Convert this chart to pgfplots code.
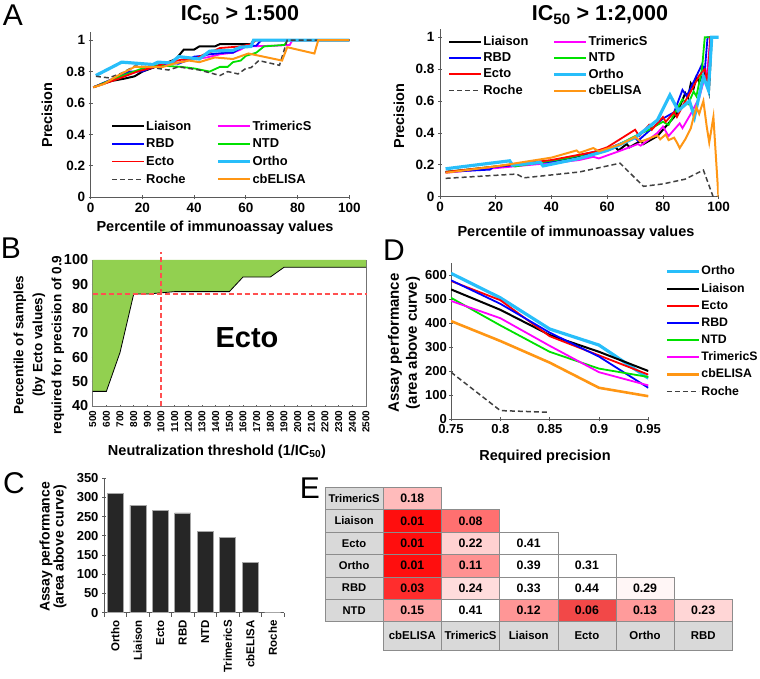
\documentclass[border=0pt]{standalone}
\usepackage{fontspec}
\setmainfont{Liberation Sans}
\usepackage{pgfplots}
\pgfplotsset{compat=1.18}

\definecolor{cLia}{RGB}{0,0,0}
\definecolor{cRBD}{RGB}{0,0,255}
\definecolor{cEcto}{RGB}{255,0,0}
\definecolor{cRoche}{RGB}{64,64,64}
\definecolor{cTri}{RGB}{255,0,255}
\definecolor{cNTD}{RGB}{0,225,0}
\definecolor{cOrtho}{RGB}{40,190,250}
\definecolor{cELISA}{RGB}{255,150,20}
\definecolor{bgreen}{RGB}{146,208,80}
\definecolor{dred}{RGB}{255,80,80}
\definecolor{lblgray}{RGB}{217,217,217}
\definecolor{axgray}{RGB}{90,90,90}
\definecolor{cbar}{RGB}{38,38,38}
% p-value shades for panel E
\definecolor{p01}{RGB}{255,14,14}
\definecolor{p03}{RGB}{255,45,45}
\definecolor{p06}{RGB}{242,72,72}
\definecolor{p08}{RGB}{255,112,112}
\definecolor{p11}{RGB}{255,145,145}
\definecolor{p12}{RGB}{255,150,150}
\definecolor{p13}{RGB}{255,155,155}
\definecolor{p15}{RGB}{255,165,165}
\definecolor{p18}{RGB}{255,187,187}
\definecolor{p22}{RGB}{255,209,209}
\definecolor{p23}{RGB}{255,214,214}
\definecolor{p24}{RGB}{255,220,220}
\definecolor{p29}{RGB}{255,246,246}

\newcommand\fs[1]{\fontsize{#1}{#1}\selectfont\bfseries}

\pgfdeclareplotmark{cellA}{\pgfpathrectangle{\pgfpoint{-29.1pt}{-11.2pt}}{\pgfpoint{58.2pt}{22.4pt}}\pgfusepathqfillstroke}
\pgfdeclareplotmark{cellB}{\pgfpathrectangle{\pgfpoint{-29.1pt}{-14.15pt}}{\pgfpoint{58.2pt}{28.3pt}}\pgfusepathqfillstroke}

\tikzset{
  sLia/.style={color=cLia, line width=2pt},
  sRBD/.style={color=cRBD, line width=1.8pt},
  sEcto/.style={color=cEcto, line width=1.8pt},
  sRoche/.style={color=cRoche, line width=1.5pt, dash pattern=on 5pt off 3pt},
  sTri/.style={color=cTri, line width=1.8pt},
  sNTD/.style={color=cNTD, line width=1.8pt},
  sOrtho/.style={color=cOrtho, line width=3.2pt},
  sELISA/.style={color=cELISA, line width=2pt},
}

\pgfplotsset{
  base/.style={
    scale only axis, enlargelimits=false, tick align=outside,
    axis lines=left,
    major tick length=4pt, tick style={axgray, line width=0.8pt},
    axis line style={-, draw=axgray, line width=0.8pt},
    every outer x axis line/.append style={-},
    every outer y axis line/.append style={-},
    every inner x axis line/.append style={-},
    every inner y axis line/.append style={-},
    /pgf/number format/assume math mode=true,
    /pgf/number format/1000 sep={}, scaled ticks=false, no marks,
    legend cell align=left,
    legend image code/.code={\draw[##1] (0pt,0pt) -- (32pt,0pt);},
  },
  cellp/.style={only marks, mark=cellA,
    mark options={fill=#1, draw=gray!90, line width=0.6pt},
    point meta=explicit symbolic, nodes near coords,
    every node near coord/.append style={anchor=center, text=black, font=\fs{12.3}}},
}

\begin{document}
\bfseries
\begin{tikzpicture}
\path[use as bounding box] (0,0) rectangle (760pt,679pt);

% ---------- A left: IC50 > 1:500
\begin{axis}[base, at={(90.7pt,481.7pt)}, anchor=south west,
  width=258.6pt, height=165pt, xmin=0, xmax=100, ymin=0, ymax=1.05,
  xtick={0,20,...,100}, ytick={0,0.2,...,1},
  tick label style={font=\fs{13.5}},
  legend columns=2,
  legend style={at={(0.0785,0.470)}, anchor=north west, draw=none, fill=none,
    inner sep=0pt, font=\fs{12.9}, row sep=5pt, nodes={inner sep=1pt},
    /tikz/every even column/.append style={column sep=24pt}},
]
\addplot[sLia] coordinates {(1,0.70)(8,0.74)(13,0.755)(17,0.77)(20,0.80)(25,0.83)(30,0.86)(33,0.88)(36,0.94)(40,0.94)(42,0.96)(48,0.96)(50,0.975)(62,0.975)(63,1)(100,1)};
\addlegendentry{Liaison}
\addplot[sTri] coordinates {(1,0.70)(10,0.76)(20,0.81)(30,0.85)(35,0.86)(40,0.88)(45,0.89)(50,0.91)(55,0.92)(58,0.94)(60,0.96)(72,0.965)(77,0.97)(78,1)(100,1)};
\addlegendentry{TrimericS}
\addplot[sRBD] coordinates {(1,0.70)(8,0.75)(12,0.78)(15,0.80)(20,0.80)(24,0.83)(30,0.855)(34,0.85)(37,0.87)(40,0.895)(43,0.90)(46,0.91)(52,0.92)(55,0.92)(58,0.95)(60,0.96)(64,0.965)(66,1)(100,1)};
\addlegendentry{RBD}
\addplot[sNTD] coordinates {(1,0.70)(10,0.76)(20,0.82)(25,0.84)(35,0.83)(40,0.82)(46,0.80)(50,0.83)(53,0.83)(55,0.86)(58,0.87)(60,0.90)(64,0.92)(67,0.96)(75,0.97)(76,1)(100,1)};
\addlegendentry{NTD}
\addplot[sEcto] coordinates {(1,0.70)(10,0.75)(18,0.80)(25,0.83)(30,0.86)(35,0.875)(40,0.88)(44,0.91)(48,0.935)(50,0.95)(58,0.96)(62,0.975)(64,1)(100,1)};
\addlegendentry{Ecto}
\addplot[sOrtho] coordinates {(2,0.775)(12,0.86)(24,0.845)(26,0.86)(31,0.855)(34,0.895)(42,0.88)(46,0.93)(55,0.935)(58,0.955)(62,0.96)(63,1)(100,1)};
\addlegendentry{Ortho}
\addplot[sRoche] coordinates {(2,0.77)(7,0.76)(12,0.79)(17,0.835)(22,0.83)(30,0.81)(34,0.83)(42,0.81)(50,0.775)(53,0.80)(57,0.785)(60,0.82)(62,0.825)(65,0.87)(73,0.84)(76,1)(100,1)};
\addlegendentry{Roche}
\addplot[sELISA] coordinates {(1,0.70)(5,0.72)(10,0.77)(17,0.83)(28,0.83)(32,0.85)(38,0.87)(42,0.86)(48,0.89)(55,0.88)(61,0.915)(74,0.87)(76,0.955)(86.5,0.915)(88,1)(100,1)};
\addlegendentry{cbELISA}
\end{axis}

% ---------- A right: IC50 > 1:2,000
\begin{axis}[base, at={(440pt,482.3pt)}, anchor=south west,
  width=278.7pt, height=167.4pt, xmin=0, xmax=100, ymin=0, ymax=1.05,
  xtick={0,20,...,100}, ytick={0,0.2,...,1},
  tick label style={font=\fs{13.5}},
  legend columns=2,
  legend style={at={(0.029,0.964)}, anchor=north west, draw=none, fill=none,
    inner sep=0pt, font=\fs{12.9}, row sep=3.5pt, nodes={inner sep=1pt},
    /tikz/every even column/.append style={column sep=23pt}},
]
\addplot[sLia] coordinates {(2,0.155)(20,0.185)(40,0.22)(55,0.27)(60,0.29)(63,0.31)(64,0.29)(67,0.33)(68,0.31)(72,0.35)(73,0.33)(78,0.38)(80,0.42)(85,0.52)(88,0.65)(89,0.62)(90,0.71)(91,0.68)(92,0.75)(93,0.72)(95,0.78)(96.5,0.66)(97.5,1)(99,1)};
\addlegendentry{Liaison}
\addplot[sTri] coordinates {(2,0.15)(45,0.22)(50,0.23)(55,0.25)(57,0.24)(65,0.29)(71,0.33)(72,0.32)(78,0.40)(80,0.44)(82,0.38)(85,0.44)(86,0.46)(87,0.43)(90,0.52)(93,0.62)(95,0.75)(96,0.80)(97,1)(98,1)};
\addlegendentry{TrimericS}
\addplot[sRBD] coordinates {(2,0.155)(18,0.17)(19,0.185)(40,0.22)(60,0.30)(70,0.37)(71,0.35)(80,0.49)(84,0.53)(87,0.67)(88.5,0.63)(91,0.72)(94,0.83)(95,0.79)(96,1)(98,1)};
\addlegendentry{RBD}
\addplot[sNTD] coordinates {(2,0.155)(25,0.20)(27,0.19)(45,0.24)(50,0.26)(52,0.25)(60,0.29)(70,0.38)(75,0.42)(78,0.45)(80,0.47)(82,0.45)(85,0.55)(87,0.61)(89,0.58)(91,0.66)(92,0.63)(94,0.80)(95,1)(97,1)};
\addlegendentry{NTD}
\addplot[sEcto] coordinates {(2,0.155)(20,0.19)(40,0.23)(55,0.28)(60,0.31)(70,0.42)(71.5,0.38)(75,0.45)(76,0.42)(80,0.50)(81,0.47)(84,0.53)(85,0.50)(88,0.60)(90,0.66)(93,0.76)(95,0.80)(96,0.72)(97,1)(98,1)};
\addlegendentry{Ecto}
\addplot[sOrtho] coordinates {(2,0.175)(25,0.225)(26,0.198)(36,0.215)(37,0.193)(50,0.24)(60,0.29)(70,0.37)(78,0.48)(82.5,0.638)(85.5,0.54)(89.5,0.60)(91.3,0.50)(94.5,0.753)(96.3,0.67)(97.5,1)(100,1)};
\addlegendentry{Ortho}
\addplot[sRoche] coordinates {(2,0.115)(27.5,0.142)(30,0.118)(50,0.155)(64.6,0.21)(73,0.065)(80,0.08)(88,0.11)(94.5,0.167)(98,0)(100,0)};
\addlegendentry{Roche}
\addplot[sELISA] coordinates {(2,0.15)(20,0.19)(40,0.245)(49,0.29)(50,0.275)(55,0.305)(57,0.285)(65,0.33)(70,0.375)(72,0.345)(75,0.365)(78,0.385)(79,0.36)(81,0.39)(82,0.355)(84,0.37)(85,0.34)(86,0.305)(88,0.36)(90,0.43)(91,0.50)(92,0.56)(93,0.52)(94.5,0.60)(95.7,0.44)(96.6,0.34)(98.1,0.50)(99.9,0)};
\addlegendentry{cbELISA}
\end{axis}

% ---------- B: Ecto threshold
\begin{axis}[base, axis lines=box, at={(92.7pt,273pt)}, anchor=south west, clip=false,
  width=273.3pt, height=146pt, xmin=500, xmax=2500, ymin=40, ymax=100,
  axis line style={draw=black!55, line width=0.7pt}, major tick length=2pt,
  xtick={500,600,...,2500}, ytick={40,50,...,100},
  xtick pos=bottom, ytick pos=left,
  x tick label style={rotate=90, anchor=east, font=\fs{10}},
  y tick label style={font=\fs{14.5}},
]
\addplot[fill=bgreen, draw=none] coordinates {(500,46)(600,46)(700,62)(800,86)(900,86)(1000,86.5)(1100,87)(1500,87)(1600,93)(1800,93)(1900,97)(2500,97)(2500,100)(500,100)} -- cycle;
\addplot[black, line width=0.8pt] coordinates {(500,46)(600,46)(700,62)(800,86)(900,86)(1000,86.5)(1100,87)(1500,87)(1600,93)(1800,93)(1900,97)(2500,97)};
\addplot[dred, line width=1.3pt, dash pattern=on 5pt off 3pt] coordinates {(1000,40)(1000,103.4)};
\addplot[dred, line width=1.3pt, dash pattern=on 5pt off 3pt] coordinates {(500,86)(2510,86)};
\end{axis}

% ---------- D: assay performance vs precision
\begin{axis}[base, at={(451pt,260pt)}, anchor=south west,
  width=197.3pt, height=156pt, xmin=0.75, xmax=0.95, ymin=0, ymax=650,
  xtick={0.75,0.8,0.85,0.9,0.95}, ytick={0,100,...,600},
  tick label style={font=\fs{13}, inner sep=0.5pt},
  x tick label style={yshift=-3pt},
  y tick label style={xshift=-1.5pt},
  legend style={at={(1.085,0.989)}, anchor=north west, draw=none, fill=none,
    inner sep=0pt, font=\fs{12.3}, row sep=5pt, nodes={inner sep=1pt}},
]
\addplot[sOrtho] coordinates {(0.75,607)(0.8,505)(0.85,375)(0.9,308)(0.95,170)};
\addlegendentry{Ortho}
\addplot[sLia] coordinates {(0.75,540)(0.8,455)(0.85,350)(0.9,280)(0.95,200)};
\addlegendentry{Liaison}
\addplot[sEcto] coordinates {(0.75,575)(0.8,495)(0.85,345)(0.9,265)(0.95,185)};
\addlegendentry{Ecto}
\addplot[sRBD] coordinates {(0.75,578)(0.8,480)(0.85,360)(0.9,260)(0.95,130)};
\addlegendentry{RBD}
\addplot[sNTD] coordinates {(0.75,505)(0.8,390)(0.85,280)(0.9,210)(0.95,175)};
\addlegendentry{NTD}
\addplot[sTri] coordinates {(0.75,492)(0.8,420)(0.85,305)(0.9,195)(0.95,140)};
\addlegendentry{TrimericS}
\addplot[sELISA, line width=2.6pt] coordinates {(0.75,408)(0.8,325)(0.85,235)(0.9,130)(0.95,95)};
\addlegendentry{cbELISA}
\addplot[sRoche] coordinates {(0.75,195)(0.8,35)(0.85,28)};
\addlegendentry{Roche}
\end{axis}

% ---------- C: bar chart
\begin{axis}[base, at={(104pt,66.3pt)}, anchor=south west,
  width=180pt, height=134.4pt, xmin=-0.5, xmax=7.5, ymin=0, ymax=350,
  ybar, bar width=16pt,
  xtick={0,...,7},
  xticklabels={Ortho,Liaison,Ecto,RBD,NTD,TrimericS,cbELISA,Roche},
  major x tick style={draw=none},
  minor xtick={-0.5,0.5,...,7.5}, minor tick length=4pt,
  ytick={0,50,...,350},
  x tick label style={rotate=90, anchor=east, font=\fs{11.5}},
  y tick label style={font=\fs{13}},
]
\addplot[fill=cbar, draw=gray!70, line width=0.5pt] coordinates {(0,310)(1,280)(2,267)(3,260)(4,211)(5,196)(6,131)(7,0)};
\end{axis}

% ---------- E: p-value table
\begin{axis}[scale only axis, hide axis, clip=false, at={(325pt,29pt)}, anchor=south west,
  width=407.3pt, height=162.7pt, xmin=325, xmax=732.3, ymin=487.3, ymax=650, y dir=reverse,
]
\addplot[cellp=p18] table[meta=p] {
x y p
412.3 498.5 0.18
};
\addplot[cellp=p01] table[meta=p] {
x y p
412.3 520.9 0.01
412.3 543.3 0.01
412.3 565.7 0.01
};
\addplot[cellp=p08] table[meta=p] {
x y p
470.5 520.9 0.08
};
\addplot[cellp=p22] table[meta=p] {
x y p
470.5 543.3 0.22
};
\addplot[cellp=white] table[meta=p] {
x y p
528.7 543.3 0.41
528.7 565.7 0.39
586.9 565.7 0.31
528.7 588.1 0.33
586.9 588.1 0.44
470.5 610.5 0.41
};
\addplot[cellp=p11] table[meta=p] {
x y p
470.5 565.7 0.11
};
\addplot[cellp=p03] table[meta=p] {
x y p
412.3 588.1 0.03
};
\addplot[cellp=p24] table[meta=p] {
x y p
470.5 588.1 0.24
};
\addplot[cellp=p29] table[meta=p] {
x y p
645.0 588.1 0.29
};
\addplot[cellp=p15] table[meta=p] {
x y p
412.3 610.5 0.15
};
\addplot[cellp=p12] table[meta=p] {
x y p
528.7 610.5 0.12
};
\addplot[cellp=p06] table[meta=p] {
x y p
586.9 610.5 0.06
};
\addplot[cellp=p13] table[meta=p] {
x y p
645.0 610.5 0.13
};
\addplot[cellp=p23] table[meta=p] {
x y p
703.2 610.5 0.23
};
\addplot[only marks, mark=cellA, mark options={fill=lblgray, draw=gray!90, line width=0.6pt},
  point meta=explicit symbolic, nodes near coords,
  every node near coord/.append style={anchor=center, text=black, font=\fs{11.2}}]
  table[meta=lab] {
x y lab
354.1 498.5 TrimericS
354.1 520.9 Liaison
354.1 543.3 Ecto
354.1 565.7 Ortho
354.1 588.1 RBD
354.1 610.5 NTD
};
\addplot[only marks, mark=cellB, mark options={fill=lblgray, draw=gray!90, line width=0.6pt},
  point meta=explicit symbolic, nodes near coords,
  every node near coord/.append style={anchor=center, text=black, font=\fs{11.4}}]
  table[meta=lab] {
x y lab
412.3 635.85 cbELISA
470.5 635.85 TrimericS
528.7 635.85 Liaison
586.9 635.85 Ecto
645.0 635.85 Ortho
703.2 635.85 RBD
};
\end{axis}

% ---------- texts
\node[font=\fontsize{30}{30}\selectfont\mdseries] at (13pt,664pt) {A};
\node[font=\fontsize{30}{30}\selectfont\mdseries] at (11pt,431pt) {B};
\node[font=\fontsize{30}{30}\selectfont\mdseries] at (14pt,196pt) {C};
\node[font=\fontsize{30}{30}\selectfont\mdseries] at (394pt,429pt) {D};
\node[font=\fontsize{30}{30}\selectfont\mdseries] at (310pt,191pt) {E};
\node[font=\fs{21.5}] at (240pt,664pt) {IC\textsubscript{50} > 1:500};
\node[font=\fs{21.5}] at (600pt,664pt) {IC\textsubscript{50} > 1:2,000};
\node[font=\fs{14.5}] at (215pt,451pt) {Percentile of immunoassay values};
\node[font=\fs{14.5}] at (576pt,446pt) {Percentile of immunoassay values};
\node[font=\fs{14.5}, rotate=90] at (47pt,564pt) {Precision};
\node[font=\fs{14.5}, rotate=90] at (399pt,563pt) {Precision};
\node[font=\fs{14.5}] at (217pt,227pt) {Neutralization threshold (1/IC\textsubscript{50})};
\node[font=\fontsize{13.5}{19}\selectfont\bfseries, rotate=90, align=center] at (39pt,334pt) {Percentile of samples\\(by Ecto values)\\required for precision of 0.9};
\node[font=\fs{29}] at (247pt,341pt) {Ecto};
\node[font=\fs{14.5}] at (545pt,222pt) {Required precision};
\node[font=\fontsize{15}{18}\selectfont\bfseries, rotate=90, align=center] at (404pt,336pt) {Assay performance\\(area above curve)};
\node[font=\fontsize{14}{14}\selectfont\bfseries, rotate=90, align=center] at (53pt,132pt) {Assay performance\\(area above curve)};
\end{tikzpicture}
\end{document}
